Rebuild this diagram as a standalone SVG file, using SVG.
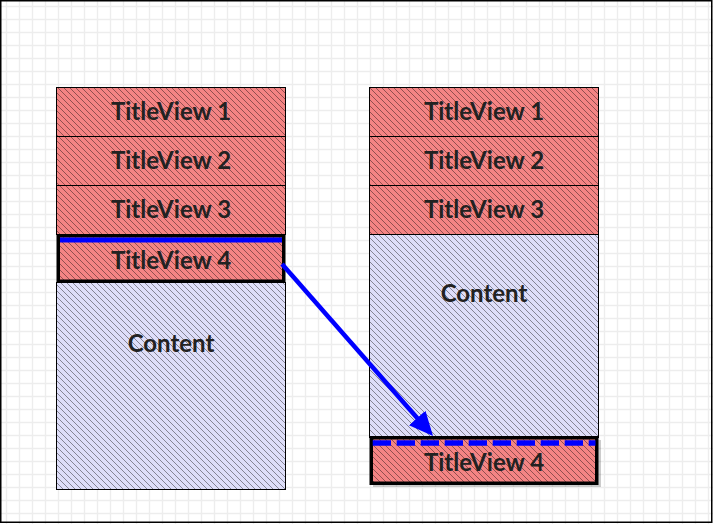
<svg xmlns="http://www.w3.org/2000/svg" width="713" height="524" viewBox="0 0 713 524">
<defs>
<pattern id="grid" patternUnits="userSpaceOnUse" width="13" height="13">
<path d="M6.5,0 V13 M0,6.5 H13" stroke="#ededed" stroke-width="1.4" fill="none"/>
</pattern>
<pattern id="hatchRed" patternUnits="userSpaceOnUse" width="6" height="6">
<rect width="6" height="6" fill="#f48484"/>
<path d="M-1,-1 L7,7 M-1,5 L1,7 M5,-1 L7,1" stroke="#000" stroke-opacity="0.4" stroke-width="1" shape-rendering="crispEdges"/>
</pattern>
<pattern id="hatchBlue" patternUnits="userSpaceOnUse" width="6" height="6">
<rect width="6" height="6" fill="#dedef9"/>
<path d="M-1,-1 L7,7 M-1,5 L1,7 M5,-1 L7,1" stroke="#000" stroke-opacity="0.4" stroke-width="1" shape-rendering="crispEdges"/>
</pattern>
<marker id="ah" markerUnits="userSpaceOnUse" markerWidth="24" markerHeight="22" viewBox="0 0 24 22" refX="2" refY="11" orient="auto">
<path d="M0,0 L24,11 L0,22 z" fill="#0000ff"/>
</marker>
</defs>
<style>
.t{fill:url(#hatchRed);stroke:#000;stroke-width:1}
.c{fill:url(#hatchBlue);stroke:#000;stroke-width:1}
.lbl{font-family:Lato,"Open Sans",sans-serif;font-weight:700;font-size:24px;fill:#222;text-anchor:middle}
.hl{fill:url(#hatchRed);stroke:#000;stroke-width:3.5}
</style>
<rect x="0" y="0" width="713" height="524" fill="#fff"/>
<rect x="0" y="0" width="713" height="524" fill="url(#grid)"/>
<rect x="0.75" y="0.75" width="711" height="521.5" fill="none" stroke="#000" stroke-width="1.5"/>

<g id="left-tv1"><rect class="t" x="56.5" y="87.5" width="229" height="49"/><text class="lbl" x="171" y="120">TitleView 1</text></g>
<g id="left-tv2"><rect class="t" x="56.5" y="136.5" width="229" height="49"/><text class="lbl" x="171" y="169">TitleView 2</text></g>
<g id="left-tv3"><rect class="t" x="56.5" y="185.5" width="229" height="49"/><text class="lbl" x="171" y="218">TitleView 3</text></g>
<g id="left-content"><rect class="c" x="56.5" y="282.5" width="229" height="207"/><text class="lbl" x="171" y="351.5">Content</text></g>
<g id="left-tv4"><rect class="hl" x="58.25" y="235.75" width="225.5" height="45.5"/><line x1="60" y1="240" x2="282" y2="240" stroke="#0000ff" stroke-width="5"/><text class="lbl" x="171" y="269">TitleView 4</text></g>

<g id="right-tv1"><rect class="t" x="369.5" y="87.5" width="229" height="49"/><text class="lbl" x="484" y="120">TitleView 1</text></g>
<g id="right-tv2"><rect class="t" x="369.5" y="136.5" width="229" height="49"/><text class="lbl" x="484" y="169">TitleView 2</text></g>
<g id="right-tv3"><rect class="t" x="369.5" y="185.5" width="229" height="49"/><text class="lbl" x="484" y="218">TitleView 3</text></g>
<g id="right-content"><rect class="c" x="369.5" y="234.5" width="229" height="203"/><text class="lbl" x="484" y="301.5">Content</text></g>
<g id="right-tv4"><rect x="373" y="440" width="228" height="47" fill="#000" opacity="0.2"/><rect class="hl" x="371.25" y="437.75" width="225.5" height="45.5"/><line x1="372.7" y1="443" x2="595.5" y2="443" stroke="#0000ff" stroke-width="5.5" stroke-dasharray="18.3 5.7"/><text class="lbl" x="484" y="470.5">TitleView 4</text></g>

<g id="connectors">
<path d="M282,264 L418.5,419.5" stroke="#0000ff" stroke-width="4.5" fill="none" marker-end="url(#ah)"/>
</g>
</svg>
